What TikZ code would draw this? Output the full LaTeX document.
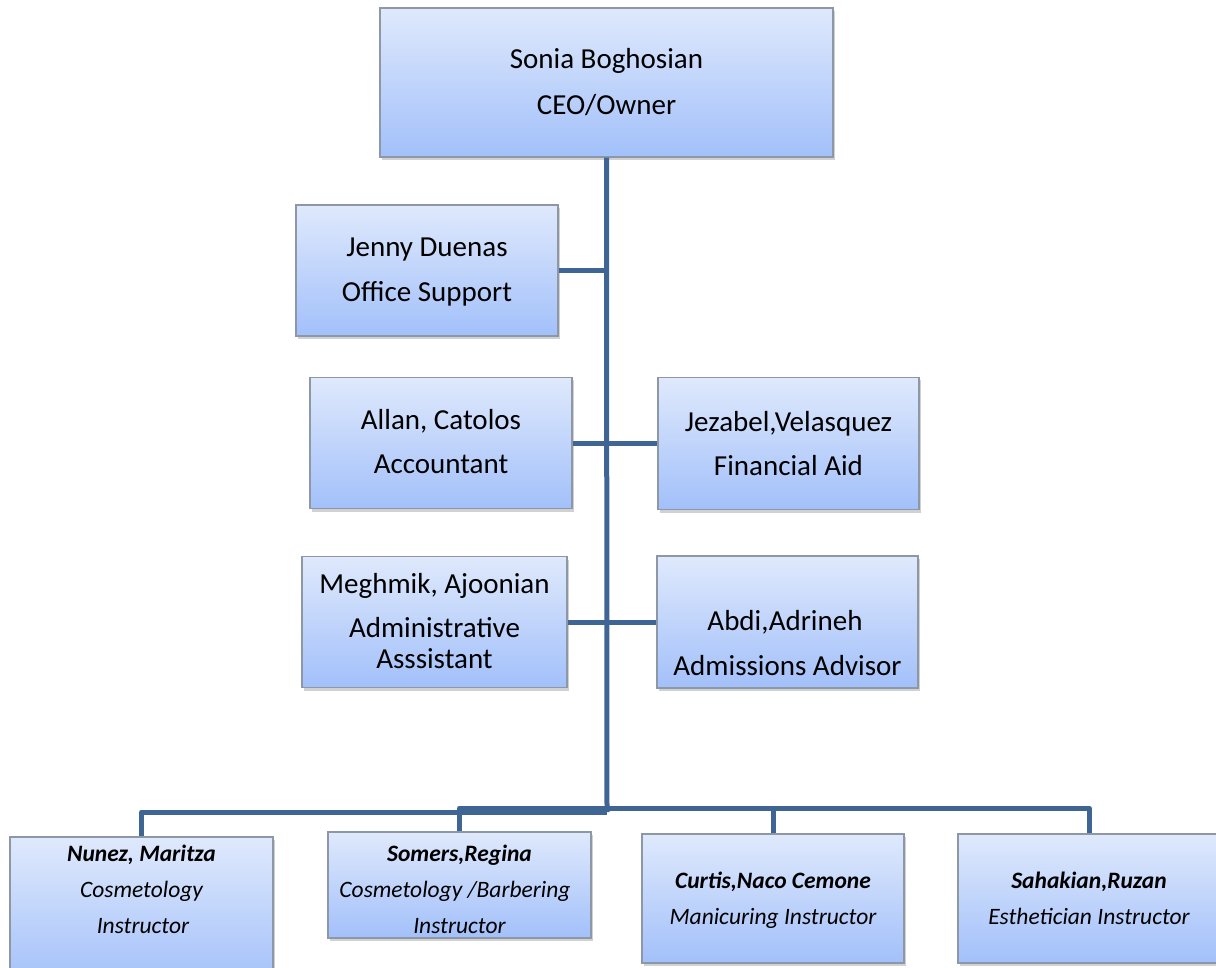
\documentclass[tikz,border=0pt]{standalone}
\usepackage{fontspec}
\setmainfont{Carlito}
\usetikzlibrary{shadows}
\definecolor{boxtop}{HTML}{DFE9FC}
\definecolor{boxbot}{HTML}{A2C0FA}
\definecolor{boxline}{HTML}{8E97A6}
\definecolor{conn}{HTML}{3F6595}
\tikzset{
  orgbox/.style={rectangle, draw=boxline, line width=1.5pt, top color=boxtop, bottom color=boxbot,
    drop shadow={shadow xshift=1.5pt, shadow yshift=-3pt, opacity=0.3, fill=black!60}, inner sep=0pt},
  big/.style={anchor=base, inner sep=0pt, font=\fontsize{29}{33}\selectfont},
  small/.style={anchor=base, inner sep=0pt, font=\fontsize{23.5}{27}\selectfont\itshape},
  smallb/.style={anchor=base, inner sep=0pt, font=\fontsize{23.5}{27}\selectfont\bfseries\itshape},
  link/.style={draw=conn, line width=5pt, line join=round}
}
\begin{document}
\begin{tikzpicture}[x=1pt,y=-1pt]
\useasboundingbox (0,0) rectangle (1216,968);
% boxes
\node[orgbox, minimum width=453pt, minimum height=149pt] (ceo) at (606.5,82.5) {};
\node[orgbox, minimum width=262pt, minimum height=131pt] (jenny) at (427,270.5) {};
\node[orgbox, minimum width=262pt, minimum height=131pt] (allan) at (441,443) {};
\node[orgbox, minimum width=261pt, minimum height=132pt] (jezabel) at (788.5,443.5) {};
\node[orgbox, minimum width=265pt, minimum height=131pt] (meghmik) at (434.5,622) {};
\node[orgbox, minimum width=261pt, minimum height=132pt] (abdi) at (787.5,622) {};
\node[orgbox, minimum width=263pt, minimum height=150pt] (nunez) at (141.5,912) {};
\node[orgbox, minimum width=263pt, minimum height=106pt] (somers) at (459.5,885) {};
\node[orgbox, minimum width=262pt, minimum height=129pt] (curtis) at (773,898.5) {};
\node[orgbox, minimum width=262pt, minimum height=129pt] (sahakian) at (1089,898.5) {};
% connectors
\coordinate (busL) at (607,812);
\coordinate (busR) at (607,808);
\draw[link] (ceo.south) -- (busL);
\draw[link] (jenny.east) -- (jenny.east -| ceo.south);
\draw[link] (allan.east) -- (allan.east -| jezabel.west);
\draw[link] (meghmik.east) -- (meghmik.east -| abdi.west);
\draw[link] (nunez.north) |- (busL);
\draw[link] (somers.north) |- (busR) -| (sahakian.north);
\draw[link] (curtis.north) -- (curtis.north |- busR);
% texts
\node[big] (t1) at (606.5,69) {Sonia Boghosian};
\node[big] (t2) at (606.5,115) {CEO/Owner};
\node[big] (t3) at (427,257) {Jenny Duenas};
\node[big] (t4) at (427,302) {Office Support};
\node[big] (t5) at (441,429) {Allan, Catolos};
\node[big] (t6) at (441,473) {Accountant};
\node[big] (t7) at (788.5,431) {Jezabel,Velasquez};
\node[big] (t8) at (788.5,475) {Financial Aid};
\node[big] (t9) at (434.5,593) {Meghmik, Ajoonian};
\node[big] (t10) at (434.5,637) {Administrative};
\node[big] (t11) at (434.5,668) {Asssistant};
\node[big] (t12) at (785,630) {Abdi,Adrineh};
\node[big] (t13) at (787.5,675) {Admissions Advisor};
\node[smallb] (t14) at (141.5,861) {Nunez, Maritza};
\node[small] (t15) at (141.5,897) {Cosmetology};
\node[small] (t16) at (143,933) {Instructor};
\node[smallb] (t17) at (459.5,861) {Somers,Regina};
\node[small] (t18) at (455,897) {Cosmetology /Barbering};
\node[small] (t19) at (459.5,933) {Instructor};
\node[smallb] (t20) at (773,888) {Curtis,Naco Cemone};
\node[small] (t21) at (773,924) {Manicuring Instructor};
\node[smallb] (t22) at (1089,888) {Sahakian,Ruzan};
\node[small] (t23) at (1089,924) {Esthetician Instructor};
\end{tikzpicture}
\end{document}
